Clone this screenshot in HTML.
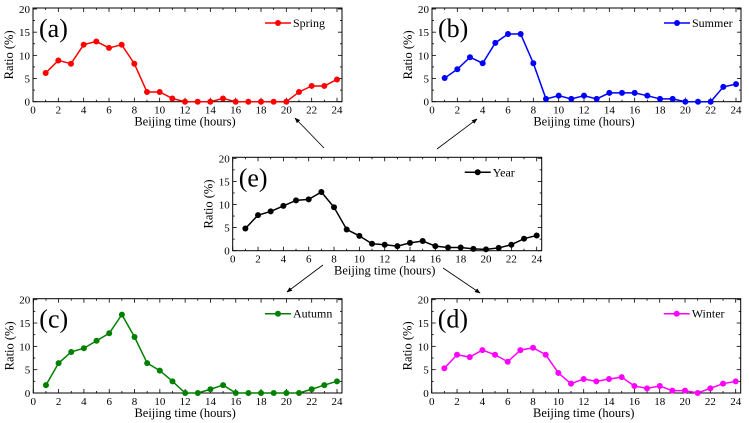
<!DOCTYPE html>
<html><head><meta charset="utf-8"><style>
body{margin:0;background:#fff;}
svg{display:block;}
svg text{font-family:"Liberation Serif","DejaVu Serif",serif;}
</style></head><body>
<svg id="fig" width="749" height="423" viewBox="0 0 749 423" xmlns="http://www.w3.org/2000/svg" font-family="Liberation Serif, DejaVu Serif, serif">
<defs><marker id="ah" viewBox="0 0 10 10" refX="9" refY="5" markerWidth="7" markerHeight="7" orient="auto"><path d="M0,1 L10,5 L0,9 z" fill="#000"/></marker></defs>
<line x1="324" y1="148" x2="295" y2="118" stroke="#000" stroke-width="0.8" marker-end="url(#ah)"/>
<line x1="437" y1="149" x2="477" y2="119" stroke="#000" stroke-width="0.8" marker-end="url(#ah)"/>
<line x1="323" y1="265" x2="287" y2="292" stroke="#000" stroke-width="0.8" marker-end="url(#ah)"/>
<line x1="443" y1="268" x2="480" y2="293" stroke="#000" stroke-width="0.8" marker-end="url(#ah)"/>
</svg>
<script>
const hours=[1,2,3,4,5,6,7,8,9,10,11,12,13,14,15,16,17,18,19,20,21,22,23,24];
const xTicks=[0,2,4,6,8,10,12,14,16,18,20,22,24];
const yTicks=[0,5,10,15,20];
const spring=[6.2,8.9,8.2,12.3,13,11.6,12.3,8.2,2.1,2.1,0.7,0,0,0,0.7,0,0,0,0,0,2.1,3.4,3.4,4.8];
const summer=[5.1,7,9.6,8.3,12.7,14.6,14.6,8.3,0.6,1.3,0.6,1.3,0.6,1.9,1.9,1.9,1.3,0.6,0.6,0,0,0,3.2,3.8];
const year=[4.8,7.7,8.5,9.7,10.9,11.1,12.7,9.4,4.6,3.2,1.5,1.3,1,1.7,2.1,1,0.7,0.7,0.4,0.3,0.6,1.3,2.6,3.3];
const autumn=[1.7,6.4,8.8,9.6,11.2,12.8,16.8,12,6.4,4.8,2.5,0,0,0.8,1.7,0,0,0,0,0,0,0.8,1.7,2.5];
const winter=[5.3,8.2,7.7,9.2,8.2,6.7,9.2,9.7,8.2,4.3,2,3,2.5,3,3.4,1.5,1,1.5,0.5,0.5,0,1,2,2.5];

const NS="http://www.w3.org/2000/svg";
const FF='"Liberation Serif","DejaVu Serif",serif';
const svg=document.getElementById('fig');
function mk(tag,attrs,parent){const e=document.createElementNS(NS,tag);for(const k in attrs)e.setAttribute(k,attrs[k]);if(tag==='text')e.style.fontFamily=FF;(parent||svg).appendChild(e);return e;}

function panel(id,label,name,vals,color,x0,x24,y0,y20){
  const g=mk('g',{});
  
  
  const sx=h=>x0+(x24-x0)*h/24;
  const sy=v=>y0+(y20-y0)*v/20;
  const L=x0,R=x24+5,T=y20-1,B=y0;
  const box=mk('rect',{x:L,y:T,width:R-L,height:B-T,fill:'none',stroke:'#000','stroke-width':1},g);
  
  
  for(let h=0;h<=24;h++){
    const major=h%2===0, len=major?4:2, x=sx(h);
    mk('line',{x1:x,y1:B,x2:x,y2:B-len,stroke:'#000','stroke-width':0.8},g);
    mk('line',{x1:x,y1:T,x2:x,y2:T+len,stroke:'#000','stroke-width':0.8},g);
  }
  xTicks.forEach(t=>{
    const tx=mk('text',{x:sx(t),y:B+12,'font-size':11,'text-anchor':'middle',fill:'#000'},g);
    tx.textContent=t;
    
    
  });
  for(let v=0;v<=20;v+=2.5){
    const major=v%5===0,len=major?4:2,y=sy(v);
    mk('line',{x1:L,y1:y,x2:L+len,y2:y,stroke:'#000','stroke-width':0.8},g);
    mk('line',{x1:R,y1:y,x2:R-len,y2:y,stroke:'#000','stroke-width':0.8},g);
  }
  yTicks.forEach(t=>{
    const ty=mk('text',{x:L-3,y:sy(t)+4,'font-size':11,'text-anchor':'end',fill:'#000'},g);
    ty.textContent=t;
    
    
  });
  const xt=mk('text',{x:(L+x24)/2,y:B+24,'font-size':12.5,'text-anchor':'middle',fill:'#000'},g);
  xt.textContent='Beijing time (hours)';
  
  
  const yt=mk('text',{x:0,y:0,'font-size':12.5,'text-anchor':'middle',fill:'#000',transform:`translate(${L-20},${(T+B)/2}) rotate(-90)`},g);
  yt.textContent='Ratio (%)';
  
  
  const pl=mk('text',{x:L+6,y:T+29,'font-size':26,fill:'#000'},g);
  pl.textContent=label;
  
  
  const lg=mk('g',{},g);
  
  
  const ly=T+15, lx=x24-72;
  mk('line',{x1:lx,y1:ly,x2:lx+26,y2:ly,stroke:color,'stroke-width':1.5},lg);
  mk('circle',{cx:lx+13,cy:ly,r:3,fill:color},lg);
  const lt=mk('text',{x:lx+28,y:ly+4,'font-size':12,fill:'#000'},lg);
  lt.textContent=name;
  const pts=hours.map((h,i)=>sx(h)+','+sy(vals[i])).join(' ');
  const line=mk('polyline',{points:pts,fill:'none',stroke:color,'stroke-width':1.5},g);
  
  
  hours.forEach((h,i)=>{
    const c=mk('circle',{cx:sx(h),cy:sy(vals[i]),r:3,fill:color},g);
    
    
  });
}
panel('a','(a)','Spring',spring,'#ff0000',33,337,101.7,9);
panel('b','(b)','Summer',summer,'#0000ff',432,736,101.7,9);
panel('e','(e)','Year',year,'#000000',232.7,536.7,250.7,158.3);
panel('c','(c)','Autumn',autumn,'#008000',33.3,337,393,299.7);
panel('d','(d)','Winter',winter,'#ff00ff',431.7,735.7,393,299.7);
</script>
</body></html>
